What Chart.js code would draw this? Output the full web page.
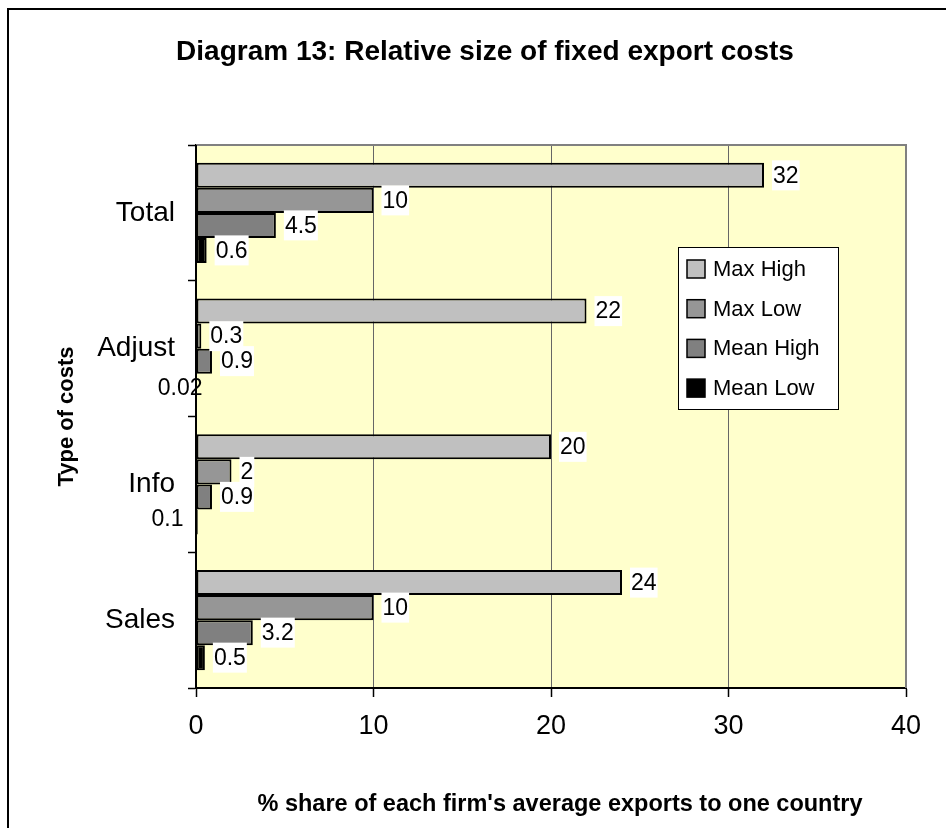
<!DOCTYPE html>
<html>
<head>
<meta charset="utf-8">
<title>Relative size of fixed export costs</title>
<script src="https://cdn.jsdelivr.net/npm/chart.js@4.4.1/dist/chart.umd.min.js"></script>
<style>
  html, body { margin: 0; padding: 0; background: #ffffff; }
  #wrap { width: 946px; height: 828px; position: relative; }
  canvas { display: block; }
</style>
</head>
<body>
<div id="wrap"><canvas id="chart" width="946" height="828"></canvas></div>
<script>
// ---- data ----
const costTypes = ['Total', 'Adjust', 'Info', 'Sales'];
const seriesNames = ['Max High', 'Max Low', 'Mean High', 'Mean Low'];
const maxHigh  = [32, 22, 20, 24];
const maxLow   = [10, 0.3, 2, 10];
const meanHigh = [4.5, 0.9, 0.9, 3.2];
const meanLow  = [0.6, 0.02, 0.1, 0.5];
const xTickValues = [0, 10, 20, 30, 40];

const titleText = 'Diagram 13: Relative size of fixed export costs';
const xTitleText = "% share of each firm's average exports to one country";
const yTitleText = 'Type of costs';

// ---- styling ----
const FONT = '"Liberation Sans", Arial, Helvetica, sans-serif';
const seriesColors = ['#C0C0C0', '#969696', '#808080', '#000000'];
const plotFill = '#FFFFCC';

// labels of very small bars were dragged to the left of the axis
const labelNudges = {
  'Adjust|Mean Low': { side: 'left', dx: 6, dy: 3 },
  'Info|Mean Low':   { side: 'left', dx: -13, dy: -2 }
};

const seriesValues = [maxHigh, maxLow, meanHigh, meanLow];

Chart.defaults.font.family = FONT;
Chart.defaults.color = '#000000';

// page furniture: frame, plot background, plot border, titles
const furniture = {
  id: 'furniture',
  beforeDraw(chart) {
    const { ctx, chartArea: a } = chart;
    ctx.save();
    ctx.fillStyle = '#ffffff';
    ctx.fillRect(0, 0, chart.width, chart.height);
    // outer frame (top and left edges)
    ctx.strokeStyle = '#000000';
    ctx.lineWidth = 2;
    ctx.beginPath();
    ctx.moveTo(8, chart.height);
    ctx.lineTo(8, 9);
    ctx.lineTo(chart.width, 9);
    ctx.stroke();
    // plot area
    ctx.fillStyle = plotFill;
    ctx.fillRect(a.left, a.top, a.right - a.left, a.bottom - a.top);
    ctx.restore();
  },
  beforeDatasetsDraw(chart) {
    const { ctx, chartArea: a } = chart;
    ctx.save();
    ctx.strokeStyle = '#808080';
    ctx.lineWidth = 2;
    ctx.beginPath();
    ctx.moveTo(a.left, a.top);
    ctx.lineTo(a.right, a.top);
    ctx.lineTo(a.right, a.bottom);
    ctx.stroke();
    ctx.restore();
  },
  afterDraw(chart) {
    const { ctx, chartArea: a } = chart;
    ctx.save();
    ctx.fillStyle = '#000000';
    ctx.textAlign = 'center';
    ctx.textBaseline = 'middle';
    ctx.font = 'bold 28px ' + FONT;
    ctx.fillText(titleText, 485, 52);
    ctx.font = 'bold 23.5px ' + FONT;
    ctx.fillText(xTitleText, 560, 805);
    ctx.translate(67, (a.top + a.bottom) / 2);
    ctx.rotate(-Math.PI / 2);
    ctx.font = 'bold 22px ' + FONT;
    ctx.fillText(yTitleText, 0, 0);
    ctx.restore();
  }
};

// value labels beside each bar, on a white box
const valueLabels = {
  id: 'valueLabels',
  afterDatasetsDraw(chart) {
    const { ctx, chartArea: a } = chart;
    ctx.save();
    ctx.font = '23px ' + FONT;
    ctx.textBaseline = 'middle';
    chart.data.datasets.forEach((ds, d) => {
      const meta = chart.getDatasetMeta(d);
      meta.data.forEach((bar, i) => {
        const text = String(ds.data[i]);
        const nudge = labelNudges[chart.data.labels[i] + '|' + ds.label];
        const w = ctx.measureText(text).width;
        if (nudge && nudge.side === 'left') {
          ctx.fillStyle = '#000000';
          ctx.textAlign = 'right';
          ctx.fillText(text, bar.base + nudge.dx, bar.y + nudge.dy);
          return;
        }
        const left = bar.x + 8;
        ctx.fillStyle = '#ffffff';
        ctx.fillRect(left, bar.y - 15, w + 2, 30);
        ctx.fillStyle = '#000000';
        ctx.textAlign = 'left';
        ctx.fillText(text, left + 1, bar.y + 1);
      });
    });
    // value axis line stays on top
    ctx.strokeStyle = '#000000';
    ctx.lineWidth = 2;
    ctx.beginPath();
    ctx.moveTo(a.left, a.top);
    ctx.lineTo(a.left, a.bottom);
    ctx.stroke();
    ctx.restore();
  }
};

// boxed legend inside the plot
const boxLegend = {
  id: 'boxLegend',
  afterDraw(chart) {
    const { ctx } = chart;
    const bx = 678, by = 247, bw = 160, bh = 162;
    ctx.save();
    ctx.fillStyle = '#ffffff';
    ctx.fillRect(bx, by, bw, bh);
    ctx.strokeStyle = '#000000';
    ctx.lineWidth = 1;
    ctx.strokeRect(bx + 0.5, by + 0.5, bw, bh);
    ctx.font = '22px ' + FONT;
    ctx.textAlign = 'left';
    ctx.textBaseline = 'middle';
    chart.data.datasets.forEach((ds, i) => {
      const cy = by + 22 + i * 39.7;
      ctx.fillStyle = ds.backgroundColor;
      ctx.fillRect(687, cy - 9, 18, 18);
      ctx.strokeStyle = '#000000';
      ctx.lineWidth = 1.5;
      ctx.strokeRect(687, cy - 9, 18, 18);
      ctx.fillStyle = '#000000';
      ctx.fillText(ds.label, 713, cy + 1);
    });
    ctx.restore();
  }
};

new Chart(document.getElementById('chart'), {
  type: 'bar',
  data: {
    labels: costTypes,
    datasets: seriesNames.map((name, k) => ({
      label: name,
      data: seriesValues[k],
      backgroundColor: seriesColors[k],
      borderColor: '#000000',
      borderWidth: 2,
      borderSkipped: false,
      categoryPercentage: 0.737,
      barPercentage: 1.0
    }))
  },
  options: {
    indexAxis: 'y',
    responsive: false,
    devicePixelRatio: 1,
    animation: false,
    layout: { padding: { left: 0, top: 145, right: 40, bottom: 0 } },
    plugins: {
      legend: { display: false },
      title: { display: false },
      tooltip: { enabled: false }
    },
    scales: {
      x: {
        type: 'linear',
        min: 0,
        max: 40,
        afterBuildTicks(scale) { scale.ticks = xTickValues.map(v => ({ value: v })); },
        afterFit(scale) { scale.height = 140; },
        grid: {
          color: '#666666',
          lineWidth: 1,
          drawTicks: true,
          tickLength: 9,
          tickColor: '#000000',
          tickWidth: 1.5
        },
        border: { display: true, color: '#000000', width: 2 },
        ticks: { font: { size: 27 }, color: '#000000', padding: 13, maxRotation: 0 }
      },
      y: {
        type: 'category',
        afterFit(scale) { scale.width = 196; },
        grid: {
          drawOnChartArea: false,
          drawTicks: true,
          tickLength: 8,
          tickColor: '#000000',
          tickWidth: 1.5,
          offset: true
        },
        border: { display: true, color: '#000000', width: 2 },
        ticks: { font: { size: 28 }, color: '#000000', padding: 13 }
      }
    }
  },
  plugins: [furniture, valueLabels, boxLegend]
});
</script>
</body>
</html>
